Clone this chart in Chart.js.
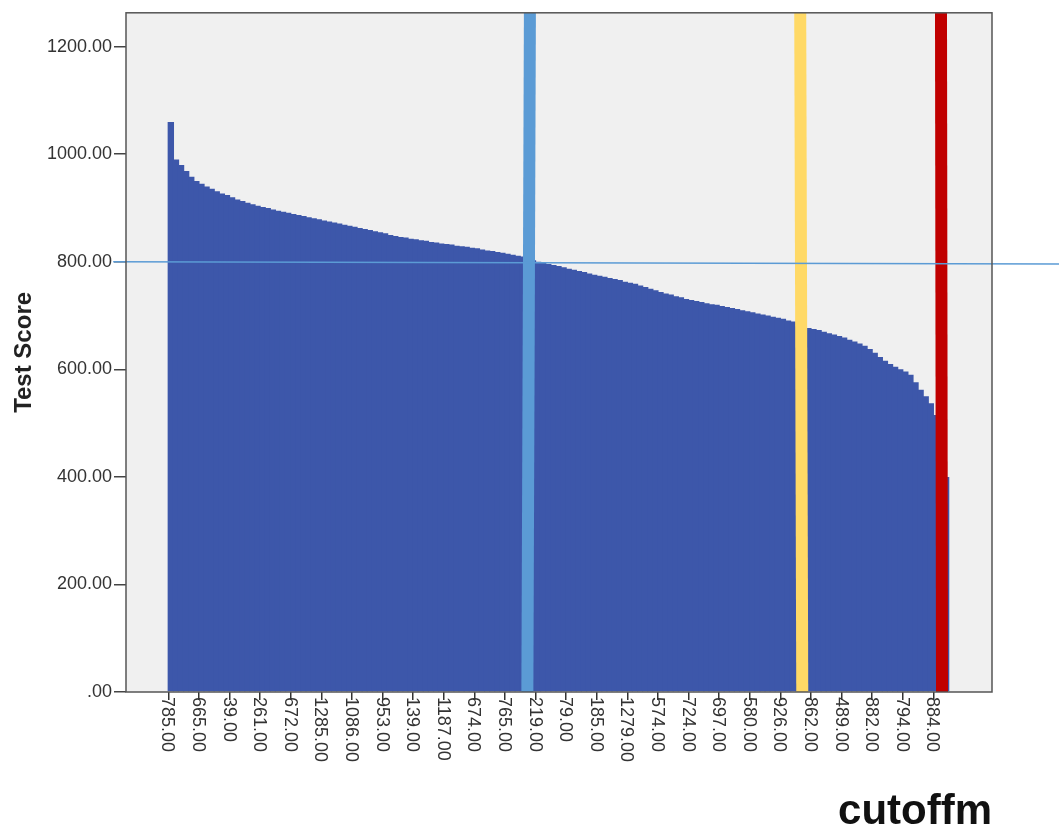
<!DOCTYPE html>
<html>
<head>
<meta charset="utf-8">
<script src="https://cdn.jsdelivr.net/npm/chart.js@4.4.1/dist/chart.umd.min.js"></script>
<style>
  html, body { margin: 0; padding: 0; background: #fff; }
  #wrap { width: 1059px; height: 833px; }
</style>
</head>
<body>
<div id="wrap"><canvas id="chart"></canvas></div>
<script>
// cases sorted by score, every 6th case is labelled on the axis
const tickLabels = ['785.00','665.00','39.00','261.00','672.00','1285.00','1086.00','953.00','139.00',
  '1187.00','674.00','765.00','219.00','79.00','185.00','1279.00','574.00','724.00','697.00',
  '580.00','926.00','862.00','489.00','882.00','794.00','884.00'];
const tickStep = 6;

const scores = [
  1060, 990, 980, 969, 958, 950, 945, 940, 936, 931,
  927, 924, 920, 916, 913, 910, 907, 904, 902, 900,
  897, 895, 893, 891, 889, 887, 885, 883, 881, 879,
  877, 875, 873, 871, 869, 867, 865, 863, 861, 859,
  857, 855, 853, 850, 848, 846, 845, 843, 842, 840,
  839, 837, 836, 834, 833, 832, 830, 829, 828, 826,
  825, 823, 821, 820, 818, 817, 815, 813, 811, 810,
  807, 803, 800, 798, 796, 794, 792, 790, 787, 785,
  783, 781, 778, 776, 774, 772, 770, 768, 766, 763,
  761, 759, 756, 753, 750, 747, 744, 741, 739, 736,
  734, 731, 729, 727, 725, 723, 721, 720, 718, 716,
  714, 712, 710, 708, 706, 704, 702, 700, 698, 696,
  694, 691, 689, 686, 682, 677, 675, 673, 670, 667,
  665, 662, 659, 655, 652, 648, 644, 638, 631, 623,
  616, 610, 605, 600, 596, 590, 576, 562, 550, 537,
  515, 480, 400
];

const yTicks = [0, 200, 400, 600, 800, 1000, 1200];
const yMax = 1263;

// cutoff markers (case position at the bottom, at the top)
const cutoffBlue = [70.4, 70.9];
const cutoffYellow = [124.3, 123.9];
const cutoffRed = [151.7, 151.5];
// pass score line, runs out past the frame
const passScore = [800, 796];
const passSpan = [-10.8, 175];

const tickPos = tickLabels.map((_, j) => j * tickStep);
const FONT = '"Liberation Sans", Arial, sans-serif';

function vline(pos, color){
  return {
    type: 'line', order: 1,
    data: [{x: pos[0], y: 0}, {x: pos[1], y: yMax}],
    borderColor: color, borderWidth: 12, borderCapStyle: 'butt',
    pointRadius: 0, fill: false, tension: 0
  };
}

const frame = {
  id: 'frame',
  beforeDraw(chart){
    const {ctx, chartArea: a} = chart;
    ctx.save();
    ctx.fillStyle = '#fff';
    ctx.fillRect(0, 0, chart.width, chart.height);
    ctx.fillStyle = '#f0f0f0';
    ctx.fillRect(a.left, a.top, a.right - a.left, a.bottom - a.top);
    ctx.restore();
  },
  afterDatasetsDraw(chart){
    const {ctx, chartArea: a} = chart;
    ctx.save();
    ctx.strokeStyle = '#555';
    ctx.lineWidth = 1.5;
    ctx.strokeRect(a.left, a.top, a.right - a.left, a.bottom - a.top);
    ctx.restore();
  },
  afterDraw(chart){
    // x labels read downwards, like SPSS
    const {ctx, chartArea: a} = chart;
    const sx = chart.scales.x;
    ctx.save();
    ctx.font = '18px ' + FONT;
    ctx.fillStyle = '#333';
    ctx.textAlign = 'left';
    ctx.textBaseline = 'middle';
    tickPos.forEach((p, j) => {
      ctx.save();
      ctx.translate(sx.getPixelForValue(p) - 1, a.bottom + 5);
      ctx.rotate(Math.PI / 2);
      ctx.fillText(tickLabels[j], 0, 0);
      ctx.restore();
    });
    ctx.restore();
  }
};

new Chart(document.getElementById('chart'), {
  type: 'bar',
  data: {
    datasets: [
      {
        type: 'line', order: 0, clip: false,
        data: [{x: passSpan[0], y: passScore[0]}, {x: passSpan[1], y: passScore[1]}],
        borderColor: '#5b9bd5', borderWidth: 1.6, pointRadius: 0, fill: false
      },
      vline(cutoffBlue, '#5b9bd5'),
      vline(cutoffYellow, '#ffd966'),
      vline(cutoffRed, '#c00000'),
      {
        label: 'Test Score', order: 5,
        data: scores.map((v, i) => ({x: i + 0.5, y: v})),
        backgroundColor: '#3d57aa', borderWidth: 0,
        categoryPercentage: 1, barPercentage: 1.25
      }
    ]
  },
  options: {
    responsive: true, maintainAspectRatio: false, animation: false,
    layout: { padding: { top: 8, right: 67, left: 0, bottom: 0 } },
    plugins: { legend: { display: false }, tooltip: { enabled: false } },
    scales: {
      x: {
        type: 'linear', min: -8.29, max: 161.5, offset: false,
        afterBuildTicks: s => { s.ticks = tickPos.map(v => ({value: v})); },
        afterFit: s => { s.height = 141; },
        ticks: { display: false },
        grid: { drawOnChartArea: false, drawTicks: true, tickLength: 8, color: '#333', lineWidth: 1.5, offset: false },
        border: { display: false },
        title: {
          display: true, text: 'cutoffm', align: 'end', color: '#111',
          font: { family: FONT, size: 42, weight: 'bold', lineHeight: 1 },
          padding: { top: 0, bottom: 0 }
        }
      },
      y: {
        min: 0, max: yMax,
        afterBuildTicks: s => { s.ticks = yTicks.map(v => ({value: v})); },
        afterFit: s => { s.width = 126; },
        ticks: {
          padding: 2, color: '#333', font: { family: FONT, size: 18 },
          callback: v => v === 0 ? '.00' : v.toFixed(2)
        },
        grid: { drawOnChartArea: false, drawTicks: true, tickLength: 12, color: '#444', lineWidth: 1.5 },
        border: { display: false },
        title: {
          display: true, text: 'Test Score', color: '#222',
          font: { family: FONT, size: 24, weight: 'bold', lineHeight: 1 },
          padding: { top: 12, bottom: 0 }
        }
      }
    }
  },
  plugins: [frame]
});
</script>
</body>
</html>
